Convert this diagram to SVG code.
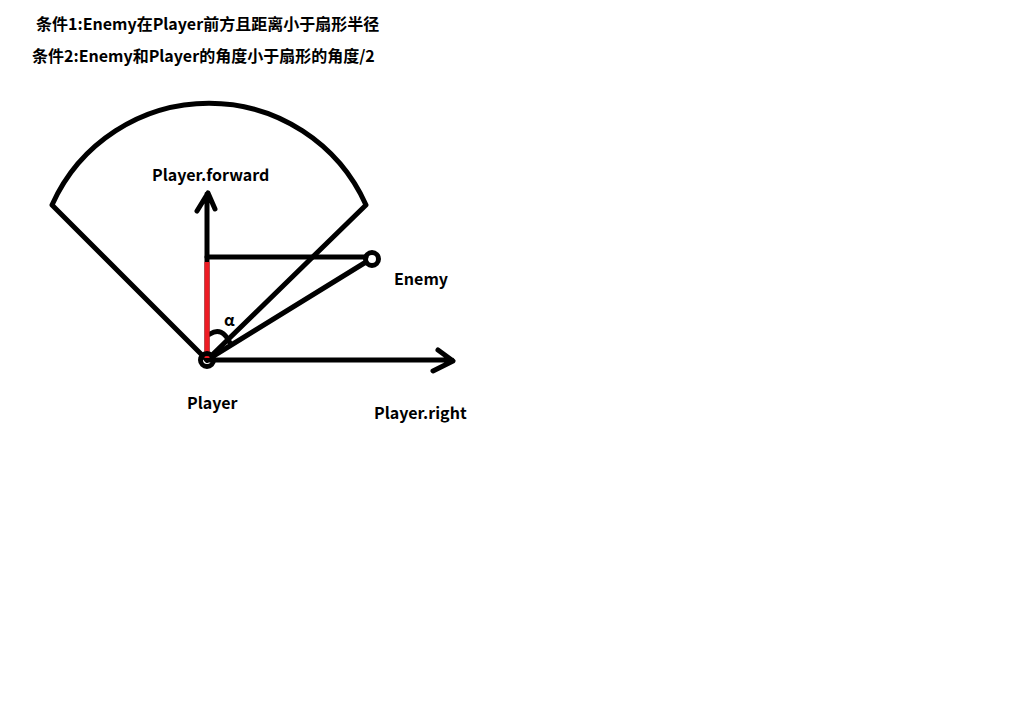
<svg xmlns="http://www.w3.org/2000/svg" width="1013" height="709" viewBox="0 0 1013 709">
<style>
text{font-family:"Noto Sans CJK SC","Noto Sans",sans-serif;font-weight:bold;font-size:16px;fill:#000}
.s{fill:none;stroke:#000;stroke-width:5;stroke-linecap:round;stroke-linejoin:round}
.c{fill:none;stroke:#000;stroke-width:5}
</style>
<rect width="1013" height="709" fill="#fff"/>
<g id="titles">
<text x="36" y="30">条件1:Enemy在Player前方且距离小于扇形半径</text>
<text x="32" y="62">条件2:Enemy和Player的角度小于扇形的角度/2</text>
</g>
<g id="sector">
<path class="s" d="M207 360 L52 205 A172 172 0 0 1 366 205 Z"/>
</g>
<g id="connectors">
<path class="s" d="M207 360 V194 M197 211 L208 193 L215 209"/>
<path class="s" d="M207 360 H452 M438 350 L453 361 L433 371"/>
<path class="s" d="M207 257 H366"/>
<path class="s" d="M207 360 L366 262"/>
<path class="s" d="M210 334 Q222 326 230 343"/>
<line x1="207" y1="262" x2="207" y2="358" stroke="#ed1c24" stroke-width="5"/>
</g>
<g id="player">
<circle class="c" cx="207" cy="360" r="6.5"/>
<text x="187" y="409">Player</text>
</g>
<g id="enemy">
<circle class="c" cx="372" cy="259" r="6.5"/>
<text x="394" y="285">Enemy</text>
</g>
<g id="labels">
<text x="152" y="181">Player.forward</text>
<text x="374" y="419">Player.right</text>
<text x="224" y="326">α</text>
</g>
</svg>
